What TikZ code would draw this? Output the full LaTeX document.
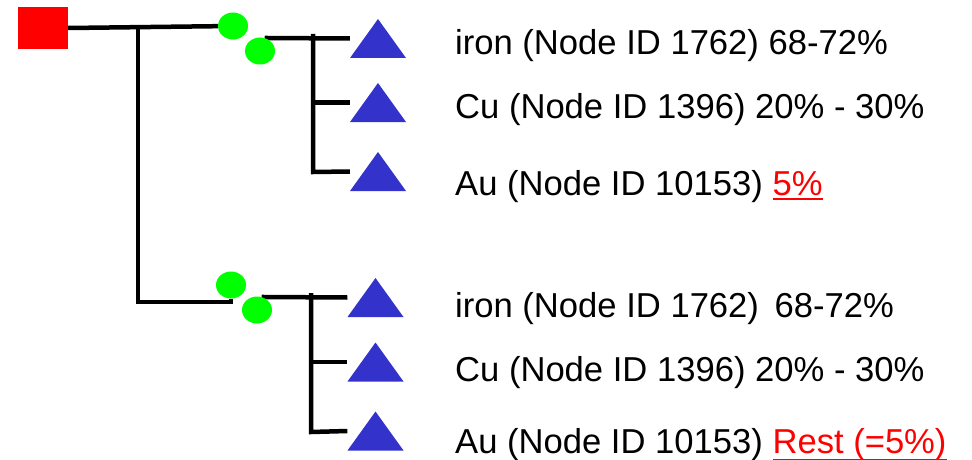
\documentclass[tikz,border=0pt]{standalone}
\usepackage{fontspec}
\setmainfont{Liberation Sans}
\usetikzlibrary{backgrounds,shapes.geometric}
\definecolor{triblue}{RGB}{51,51,204}
\definecolor{leafgreen}{RGB}{0,255,0}
\newcommand\redul[3]{\textcolor{red}{\setbox0\hbox{#3}\rlap{\rule[#1]{\wd0}{#2}}\box0}}
\begin{document}
\begin{tikzpicture}[x=1pt,y=-1pt,
  conn/.style={line width=4.5pt, black},
  rootbox/.style={fill=red, minimum width=50pt, minimum height=42pt, inner sep=0},
  blob/.style={ellipse, fill=leafgreen, minimum width=30pt, minimum height=27pt, inner sep=0},
  tri/.style={inner sep=0, minimum width=56pt, minimum height=39pt,
    path picture={\fill[triblue] (path picture bounding box.south west) -- (path picture bounding box.north) -- (path picture bounding box.south east) -- cycle;}},
  lbl/.style={anchor=base west, inner sep=0, font=\fontsize{34.6pt}{40pt}\selectfont}]
\useasboundingbox (0,0) rectangle (972,460);
\node[rootbox] (root) at (43,28) {};
\node[blob] (e1) at (233,26) {};
\node[blob] (e2) at (260,51) {};
\node[blob] (e3) at (231,285) {};
\node[blob] (e4) at (257,310) {};
\node[tri] (t1) at (378,38.5) {};
\node[tri] (t2) at (378,102.5) {};
\node[tri] (t3) at (378,171.5) {};
\node[tri] (t4) at (375.5,297.5) {};
\node[tri] (t5) at (375.5,362) {};
\node[tri] (t6) at (375.5,431) {};
\coordinate (j1) at (138,27);
\coordinate (j2) at (138,302);
\coordinate (k1) at (313,34);
\coordinate (k3) at (313,172);
\coordinate (k4) at (311,293);
\coordinate (k6) at (311,432);
\begin{pgfonlayer}{background}
\draw[conn] (root.east) -- (e1);
\draw[conn, line width=4.2pt] (j1) -- (j2) -- (e3.south |- j2) -- (e3.south);
\draw[conn] (e2.70) -- (t1.west);
\draw[conn] (k1) -- (k3) -- (t3.west);
\draw[conn] (k1 |- t2.west) -- (t2.west);
\draw[conn] (e4.70) -- (t4.west);
\draw[conn] (k4) -- (k6) -- (t6.west);
\draw[conn] (k4 |- t5.west) -- (t5.west);
\end{pgfonlayer}
\node[lbl] (l1) at (455,55) {iron (Node ID 1762) 68-72\%};
\node[lbl] (l2) at (455,118) {Cu (Node ID 1396) 20\% - 30\%};
\node[lbl] (l3) at (455,195) {Au (Node ID 10153) \redul{-5pt}{2.5pt}{5\%}};
\node[lbl] (l4) at (455,317) {iron (Node ID 1762) \hspace{6pt}68-72\%};
\node[lbl] (l5) at (455,381) {Cu (Node ID 1396) 20\% - 30\%};
\node[lbl] (l6) at (455,453) {Au (Node ID 10153) \redul{-8pt}{2.5pt}{Rest (=5\%)}};
\end{tikzpicture}
\end{document}
